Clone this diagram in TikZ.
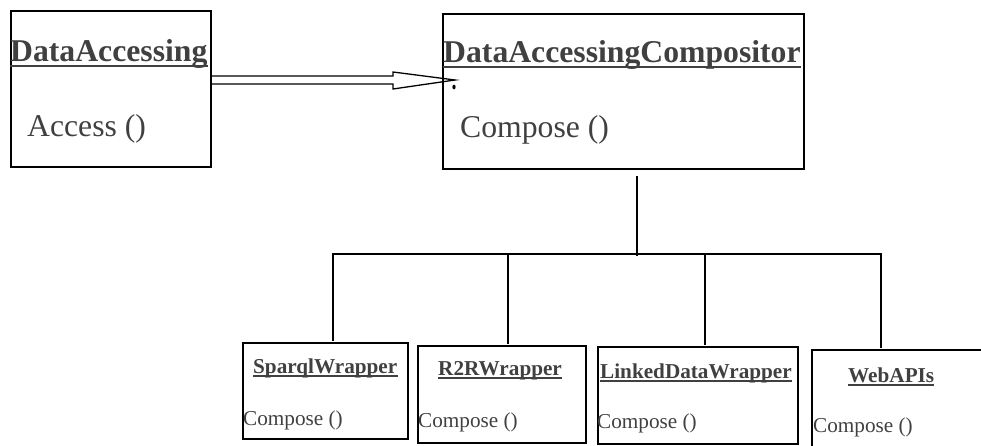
\documentclass[tikz,border=0pt]{standalone}
\usepackage{fontspec}
\setmainfont{Liberation Serif}
\definecolor{txt}{HTML}{404040}
\begin{document}
\begin{tikzpicture}[x=1pt,y=-1pt,
  box/.style={draw=black,line width=2pt,anchor=north west,inner sep=0pt},
  bigtitle/.style={anchor=base west,inner sep=0pt,text=txt,font=\fontsize{31.7}{38}\selectfont\bfseries},
  bigop/.style={anchor=base west,inner sep=0pt,text=txt,font=\fontsize{31.7}{38}\selectfont},
  smalltitle/.style={anchor=base west,inner sep=0pt,text=txt,font=\fontsize{21.2}{25}\selectfont\bfseries},
  smallop/.style={anchor=base west,inner sep=0pt,text=txt,font=\fontsize{21.2}{25}\selectfont},
  ul/.style={draw=txt,line width=1.4pt},
  link/.style={draw=black,line width=2pt},
  arr/.style={draw=black,line width=1.3pt,line join=miter}]
\useasboundingbox (0,0) rectangle (981,446);
% boxes
\node[box,minimum width=200pt,minimum height=156pt] (da) at (10,10) {};
\node[box,minimum width=361pt,minimum height=155pt] (comp) at (442,13) {};
\node[box,minimum width=165pt,minimum height=96pt] (spq) at (242,342) {};
\node[box,minimum width=168pt,minimum height=97pt] (r2r) at (417,345) {};
\node[box,minimum width=200pt,minimum height=97pt] (ldw) at (597,346) {};
\node[box,minimum width=220pt,minimum height=130pt] (web) at (811,349) {};
% texts
\node[bigtitle] (daT) at (10,62) {DataAccessing};
\draw[ul] ([yshift=-4pt]daT.base west) -- ([yshift=-4pt]daT.base east);
\node[bigop] (daO) at (27,137) {Access ()};
\node[bigtitle] (compT) at (443,63) {DataAccessingCompositor};
\draw[ul] ([yshift=-4pt]compT.base west) -- ([yshift=-4pt]compT.base east);
\node[bigop] (compO) at (460,138) {Compose ()};
\node[smalltitle] (spqT) at (253,373) {SparqlWrapper};
\draw[ul] ([yshift=-3pt]spqT.base west) -- ([yshift=-3pt]spqT.base east);
\node[smallop] (spqO) at (243,425) {Compose ()};
\node[smalltitle] (r2rT) at (438,375) {R2RWrapper};
\draw[ul] ([yshift=-3pt]r2rT.base west) -- ([yshift=-3pt]r2rT.base east);
\node[smallop] (r2rO) at (418,427) {Compose ()};
\node[smalltitle] (ldwT) at (600,378) {LinkedDataWrapper};
\draw[ul] ([yshift=-3pt]ldwT.base west) -- ([yshift=-3pt]ldwT.base east);
\node[smallop] (ldwO) at (597,428) {Compose ()};
\node[smalltitle] (webT) at (848,382) {WebAPIs};
\draw[ul] ([yshift=-3pt]webT.base west) -- ([yshift=-3pt]webT.base east);
\node[smallop] (webO) at (813,432) {Compose ()};
% generalisation arrow
\coordinate (a1) at (210,76);
\coordinate (a2) at (210,84);
\coordinate (tip) at (455,80);
\draw[arr] (a1) -- (393,76) -- (393,72) -- (tip) -- (393,89) -- (393,84) -- (a2);
\fill (454,87) ellipse (1.6pt and 2.4pt);
% composition tree
\coordinate (cdown) at (637,176);
\coordinate (hub) at (637,256);
\coordinate (h1) at (333,254);
\coordinate (h2) at (508,254);
\coordinate (h3) at (705,254);
\coordinate (h4) at (881,254);
\draw[link] (cdown) -- (hub);
\draw[link] ([xshift=-1pt]h1) -- ([xshift=1pt]h4);
\draw[link] (h1) -- ([yshift=1pt]h1 |- spq.north);
\draw[link] (h2) -- ([yshift=1pt]h2 |- r2r.north);
\draw[link] (h3) -- ([yshift=1pt]h3 |- ldw.north);
\draw[link] (h4) -- ([yshift=1pt]h4 |- web.north);
\end{tikzpicture}
\end{document}
